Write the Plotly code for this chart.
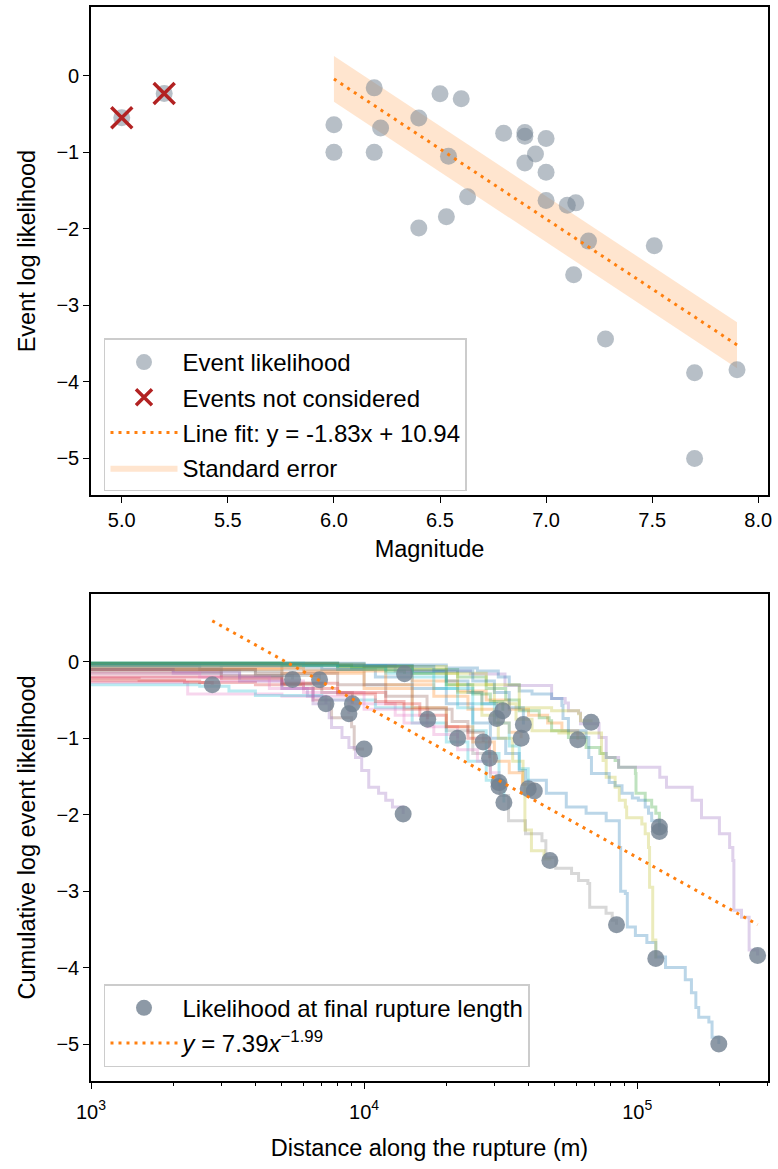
import math
import plotly.graph_objects as go

# ---- event table (one entry per event) ----
magnitude = [7.7, 6.95, 7.2, 6.6, 7.9, 6.9, 6.0, 7.28, 7.7, 6.53, 7.51,
             6.19, 6.0, 6.8, 6.4, 6.4, 6.63, 5.2, 7.13, 7.0, 6.9, 7.1,
             6.19, 7.0, 5.0, 6.54, 6.22, 6.5, 6.9, 7.14, 7.0]
event_loglik = [-5.0, -1.02, -2.16, -0.30, -3.84, -1.14, -1.0, -3.44, -3.88, -1.84, -2.22,
                -1.0, -0.64, -0.75, -1.99, -0.55, -1.58, -0.23, -2.60, -1.63, -0.74, -1.69,
                -0.157, -1.26, -0.548, -1.05, -0.68, -0.235, -0.79, -1.66, -0.82]
considered = [True] * 17 + [False] + [True] * 6 + [False] + [True] * 6
final_length = [199000, 60600, 120600, 2780, 276000, 10000, 22000, 84000, 117000, 32500, 120600,
                37600, 32200, 17100, 13900, 9060, 31200, 5470, 47900, 31200, 30600, 42000,
                14060, 28800, 7250, 27300, 8800, 6870, 67800, 39900, 38300]

# cumulative log likelihood along each rupture (steps before the final length)
step_distance = [
    [700, 3000, 7000, 11000, 15000, 20000, 25000, 29000, 33000, 37000, 39000, 46500, 55000, 65000,
     77000, 86000, 87000, 90500, 92000, 98500, 108500, 117000, 127000, 150000, 158000, 164000,
     168000, 183000, 188000],
    [700, 8000, 15000, 22000, 28000, 34000, 40000, 47000, 53000],
    [700, 8000, 15000, 22000, 28000, 33000, 37000, 43800, 47600, 48600, 56000, 65000, 73000, 77000,
     83000, 85500, 98500, 99000, 107000, 113000, 117000],
    [700, 1500, 2200],
    [700, 13000, 24500, 32800, 48600, 54500, 56000, 61000, 62000, 72500, 77000, 85500, 121000,
     128000, 159000, 172000, 200000, 218000, 224000, 226000, 241000, 257000],
    [700, 3000, 5000, 6500, 7600, 9000, 9200],
    [700, 2260, 5000, 9000, 13000, 17000],
    [700, 5000, 10000, 15000, 20000, 25000, 29000, 31500, 33800, 39000, 44800, 46300, 50300, 57500,
     61000, 66000, 67000, 76900, 81000],
    [700, 10000, 20000, 30000, 36000, 41200, 51700, 74000, 75000, 77000, 83000, 86000, 90500, 91500,
     104000, 107000, 110000, 111000, 114000],
    [700, 2500, 3200, 4000, 7000, 11000, 15000, 20000, 24000, 28000],
    [700, 10000, 20000, 26000, 31000, 34000, 37000, 41200, 48600, 53000, 53500, 56000, 65000, 66500,
     68000, 79000, 83000, 88000, 96000, 101000, 107000, 110000, 113000],
    [700, 6000, 12000, 18000, 24000, 30000, 34000],
    [700, 8000, 15000, 20000, 25000, 29000],
    [700, 2500, 4000, 6000, 8000, 11000, 14000],
    [700, 2000, 3500, 5000, 6500, 7450, 7600, 8300, 8800, 9300, 9800, 10400, 11300, 12000, 12700],
    [700, 3000, 5000, 7000],
    [700, 3000, 6000, 10000, 14000, 18000, 22000, 26000, 29000],
    [700, 2500, 4000],
    [700, 8000, 15000, 22000, 27000, 31000, 35000, 38200, 38800, 41000, 45600],
    [700, 6000, 12000, 18000, 22000, 25000, 28000],
    [700, 8000, 15000, 20000, 24000, 27000],
    [700, 5000, 10000, 15000, 20000, 25000, 30000, 34000, 38000],
    [700, 5000, 9000, 12000],
    [700, 3000, 5000, 8000, 12000, 16000, 20000, 24000],
    [700, 2000, 3500, 5000, 6200],
    [700, 4000, 8000, 12000, 17000, 21000, 24000],
    [700, 2500, 4500, 6500],
    [700, 3000, 5000],
    [700, 10000, 20000, 28000, 37000, 48600, 61000, 62000],
    [700, 8000, 15000, 20000, 25000, 30000, 34000, 37000],
    [700, 10000, 18000, 25000, 30000, 34000],
]
step_loglik = [
    [-0.03, -0.05, -0.1, -0.2, -0.35, -0.55, -0.8, -1.0, -1.2, -1.42, -1.55, -1.72, -1.9, -1.98,
     -2.08, -2.43, -3.0, -3.03, -3.47, -3.58, -3.67, -3.86, -4.0, -4.16, -4.33, -4.52, -4.65,
     -4.71, -4.91],
    [-0.05, -0.1, -0.25, -0.38, -0.5, -0.62, -0.7, -0.8, -0.9],
    [-0.02, -0.05, -0.1, -0.2, -0.35, -0.5, -0.64, -0.73, -0.77, -0.9, -0.99, -1.12, -1.2, -1.25,
     -1.29, -1.38, -1.46, -1.72, -1.81, -1.9, -1.98],
    [-0.22, -0.24, -0.27],
    [-0.05, -0.12, -0.16, -0.31, -0.48, -0.54, -0.64, -0.67, -0.81, -0.99, -1.25, -1.38, -1.51,
     -1.64, -1.81, -2.04, -2.25, -2.43, -2.6, -3.25, -3.34, -3.77],
    [-0.15, -0.2, -0.3, -0.5, -0.73, -0.85, -1.14],
    [-0.27, -0.42, -0.45, -0.55, -0.7, -0.85],
    [-0.04, -0.1, -0.3, -0.6, -0.9, -1.2, -1.5, -1.75, -2.08, -2.25, -2.34, -2.56, -2.7, -2.77,
     -2.86, -2.9, -3.21, -3.29, -3.38],
    [-0.04, -0.1, -0.3, -0.55, -0.75, -0.9, -0.93, -1.2, -1.29, -1.51, -1.64, -1.81, -1.9, -2.04,
     -2.12, -2.25, -2.43, -2.95, -3.64],
    [-0.3, -0.32, -0.38, -0.44, -0.5, -0.6, -0.8, -1.05, -1.3, -1.55],
    [-0.02, -0.04, -0.08, -0.12, -0.2, -0.3, -0.38, -0.42, -0.48, -0.57, -0.74, -0.9, -0.99, -1.25,
     -1.46, -1.58, -1.62, -1.72, -1.78, -1.81, -1.9, -1.98, -2.08],
    [-0.08, -0.12, -0.3, -0.45, -0.62, -0.8, -0.92],
    [-0.02, -0.06, -0.15, -0.3, -0.42, -0.52],
    [-0.25, -0.27, -0.3, -0.35, -0.42, -0.52, -0.62],
    [-0.1, -0.12, -0.2, -0.35, -0.55, -0.73, -0.86, -0.99, -1.12, -1.25, -1.42, -1.64, -1.72,
     -1.81, -1.9],
    [-0.12, -0.18, -0.28, -0.4],
    [-0.2, -0.25, -0.4, -0.62, -0.8, -0.95, -1.15, -1.3, -1.45],
    [-0.05, -0.1, -0.18],
    [-0.03, -0.06, -0.15, -0.4, -0.7, -1.0, -1.3, -1.6, -2.2, -2.47, -2.58],
    [-0.02, -0.05, -0.15, -0.35, -0.6, -0.9, -1.2],
    [-0.02, -0.05, -0.12, -0.25, -0.4, -0.55],
    [-0.1, -0.15, -0.35, -0.6, -0.85, -1.05, -1.3, -1.45, -1.6],
    [-0.02, -0.04, -0.08, -0.12],
    [-0.2, -0.22, -0.28, -0.4, -0.55, -0.7, -0.85, -1.0],
    [-0.1, -0.15, -0.25, -0.35, -0.45],
    [-0.1, -0.15, -0.3, -0.45, -0.62, -0.78, -0.92],
    [-0.15, -0.2, -0.35, -0.5],
    [-0.08, -0.12, -0.18],
    [-0.03, -0.06, -0.15, -0.3, -0.6, -0.64, -0.68, -0.77],
    [-0.05, -0.1, -0.2, -0.35, -0.55, -0.8, -1.1, -1.4],
    [-0.03, -0.06, -0.12, -0.25, -0.4, -0.6],
]

# fits
line_fit_slope, line_fit_intercept = -1.83, 10.94
power_fit_coef, power_fit_exp = 7.39, -1.99
band_mag = [6.0, 7.9]
band_upper = [0.26, -3.22]
band_lower = [-0.34, -3.82]

mag_ticks = [5.0, 5.5, 6.0, 6.5, 7.0, 7.5, 8.0]
ll_ticks = [0, -1, -2, -3, -4, -5]
dist_ticks = [1e3, 1e4, 1e5]
dist_ticktext = ["10<sup>3</sup>", "10<sup>4</sup>", "10<sup>5</sup>"]

TAB10 = ["31,119,180", "255,127,14", "44,160,44", "214,39,40", "148,103,189",
         "140,86,75", "227,119,194", "127,127,127", "188,189,34", "23,190,207"]
ORANGE = "#ff7f0e"
DOTS = "3px,5px"
FONT = "Arial, Liberation Sans, sans-serif"

fig = go.Figure()

# ---------------- top panel: likelihood vs magnitude ----------------
fig.add_trace(go.Scatter(
    x=band_mag + band_mag[::-1], y=band_upper + band_lower[::-1],
    fill="toself", fillcolor="rgba(255,127,14,0.2)", mode="lines",
    line=dict(width=0, color="rgba(255,127,14,0.2)"),
    name="Standard error", legendrank=4, legendgroup="se",
    xaxis="x", yaxis="y", hoverinfo="skip"))

fig.add_trace(go.Scatter(
    x=magnitude, y=event_loglik, mode="markers",
    marker=dict(size=17, color="rgba(112,128,144,0.5)", line=dict(width=0)),
    name="Event likelihood", legendrank=1, legendgroup="ev", xaxis="x", yaxis="y"))

used_mag = [m for m, c in zip(magnitude, considered) if c]
fit_x = [min(used_mag), max(used_mag)]
fit_y = [line_fit_slope * v + line_fit_intercept for v in fit_x]
fig.add_trace(go.Scatter(
    x=fit_x, y=fit_y, mode="lines",
    line=dict(color=ORANGE, width=3, dash=DOTS),
    name=f"Line fit: y = {line_fit_slope:.2f}x + {line_fit_intercept:.2f}",
    legendrank=3, legendgroup="fit", xaxis="x", yaxis="y"))

fig.add_trace(go.Scatter(
    x=[m for m, c in zip(magnitude, considered) if not c],
    y=[v for v, c in zip(event_loglik, considered) if not c],
    mode="markers",
    marker=dict(symbol="x-thin", size=21, line=dict(width=3.5, color="#b22222")),
    name="Events not considered", legendrank=2, legendgroup="nc", xaxis="x", yaxis="y"))

# ---------------- bottom panel: cumulative likelihood vs distance ----------------
for i, (dx, dy) in enumerate(zip(step_distance, step_loglik)):
    fig.add_trace(go.Scatter(
        x=dx + [final_length[i]], y=dy + [event_loglik[i]],
        mode="lines", line=dict(color=f"rgba({TAB10[i % 10]},0.3)", width=3, shape="hv"),
        showlegend=False, hoverinfo="skip", xaxis="x2", yaxis="y2"))

fig.add_trace(go.Scatter(
    x=final_length, y=event_loglik, mode="markers",
    marker=dict(size=17, color="rgba(112,128,144,0.8)", line=dict(width=0)),
    name="Likelihood at final rupture length", legend="legend2", legendrank=1,
    legendgroup="fl", xaxis="x2", yaxis="y2"))

pl_x = [min(final_length), max(final_length)]
pl_y = [power_fit_coef + power_fit_exp * math.log10(v) for v in pl_x]
fig.add_trace(go.Scatter(
    x=pl_x, y=pl_y, mode="lines", line=dict(color=ORANGE, width=3, dash=DOTS),
    name=f"<i>y</i> = {power_fit_coef:.2f}<i>x</i><sup>\u2212{abs(power_fit_exp):.2f}</sup>",
    legend="legend2", legendrank=2, legendgroup="pl", xaxis="x2", yaxis="y2"))

axis_style = dict(
    showline=True, linecolor="black", linewidth=1.6, mirror=True,
    ticks="outside", ticklen=6, tickwidth=1.4, tickcolor="black",
    showgrid=False, zeroline=False,
    tickfont=dict(size=20, color="black", family=FONT),
)
title_font = dict(size=23.5, color="black", family=FONT)

minor_vals = [m * 10 ** e for e in (3, 4, 5) for m in range(2, 10) if m * 10 ** e <= 3e5]

legend_style = dict(
    xanchor="left", yanchor="top", bgcolor="rgba(255,255,255,0.8)",
    bordercolor="#cccccc", borderwidth=1.5, itemwidth=67,
    traceorder="grouped", tracegroupgap=1,
    font=dict(size=24, color="black", family=FONT),
)

fig.update_layout(
    width=778, height=1169,
    margin=dict(l=91, r=10, t=5, b=88),
    paper_bgcolor="white", plot_bgcolor="white",
    font=dict(family=FONT, color="black"),
    xaxis=dict(domain=[0, 1], anchor="y", range=[4.855, 8.046],
               tickvals=mag_ticks, ticktext=[f"{v:.1f}" for v in mag_ticks],
               title=dict(text="Magnitude", font=title_font, standoff=11), **axis_style),
    yaxis=dict(domain=[0.5455, 1.0], anchor="x", range=[-5.48, 0.90],
               tickvals=ll_ticks,
               title=dict(text="Event log likelihood", font=title_font, standoff=14), **axis_style),
    xaxis2=dict(domain=[0, 1], anchor="y2", type="log", range=[3.0, 5.479],
                tickvals=dist_ticks, ticktext=dist_ticktext, ticklabelstandoff=6,
                minor=dict(ticks="outside", ticklen=3.5, tickwidth=1, tickcolor="black",
                           tickvals=minor_vals, showgrid=False),
                title=dict(text="Distance along the rupture (m)", font=title_font, standoff=18),
                **axis_style),
    yaxis2=dict(domain=[0, 0.4535], anchor="x2", range=[-5.483, 0.888],
                tickvals=ll_ticks,
                title=dict(text="Cumulative log event likelihood", font=title_font, standoff=14),
                **axis_style),
    legend=dict(x=0.0192, y=0.6914, **legend_style),
    legend2=dict(x=0.0192, y=0.0901, **legend_style),
    showlegend=True,
)

fig.write_html("out.html")
